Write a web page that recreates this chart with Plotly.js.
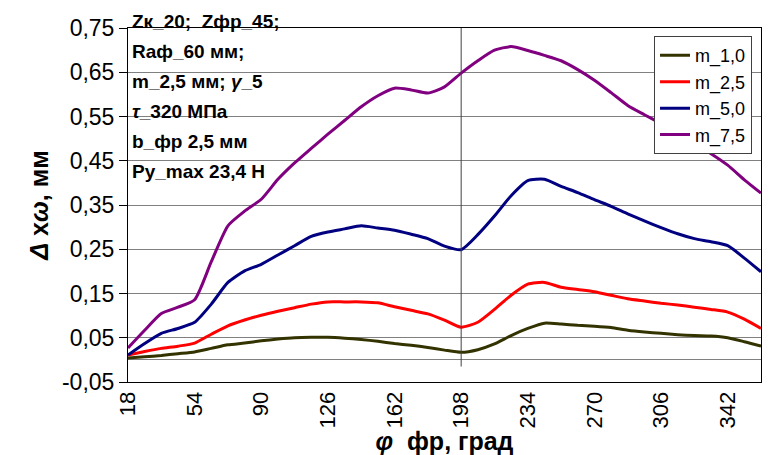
<!DOCTYPE html>
<html>
<head>
<meta charset="utf-8">
<script src="https://cdn.plot.ly/plotly-3.0.1.min.js"></script>
<style>html,body{margin:0;padding:0;background:#fff;}#chart{width:780px;height:455px;}</style>
</head>
<body>
<div id="chart"></div>
<script>
// Angle phi, degrees
var phi = [18,27,36,45,54,63,72,81,90,99,108,117,126,135,144,153,162,171,180,189,198,207,216,225,234,243,252,261,270,279,288,297,306,315,324,333,342,351,360];

var m10 = [0.004,0.007,0.010,0.014,0.018,0.026,0.034,0.038,0.043,0.047,0.050,0.051,0.051,0.049,0.046,0.042,0.037,0.033,0.028,0.022,0.017,0.023,0.036,0.055,0.071,0.083,0.081,0.078,0.076,0.073,0.067,0.063,0.060,0.057,0.055,0.054,0.050,0.041,0.031];
var m25 = [0.011,0.019,0.026,0.031,0.038,0.058,0.077,0.090,0.101,0.110,0.118,0.126,0.131,0.131,0.131,0.129,0.120,0.112,0.104,0.090,0.074,0.085,0.114,0.146,0.171,0.175,0.164,0.159,0.154,0.146,0.138,0.133,0.128,0.124,0.119,0.114,0.108,0.092,0.071];
var m50 = [0.011,0.037,0.060,0.071,0.085,0.126,0.175,0.201,0.216,0.237,0.258,0.279,0.289,0.296,0.303,0.298,0.293,0.284,0.274,0.257,0.249,0.283,0.325,0.371,0.405,0.408,0.392,0.378,0.362,0.347,0.330,0.314,0.299,0.285,0.274,0.267,0.258,0.230,0.199];
var m75 = [0.027,0.067,0.105,0.119,0.136,0.222,0.303,0.336,0.363,0.408,0.445,0.478,0.510,0.541,0.572,0.597,0.614,0.610,0.603,0.617,0.648,0.676,0.700,0.708,0.699,0.688,0.676,0.656,0.632,0.604,0.575,0.554,0.534,0.513,0.489,0.466,0.440,0.407,0.377];

var seriesNames = ["m_1,0","m_2,5","m_5,0","m_7,5"];
var seriesColors = ["#333300","#FF0000","#000080","#800080"];
var seriesData = [m10, m25, m50, m75];

var xTicks = [18,54,90,126,162,198,234,270,306,342];
var yTicks = [-0.05,0.05,0.15,0.25,0.35,0.45,0.55,0.65,0.75];
var yTickText = ["-0,05","0,05","0,15","0,25","0,35","0,45","0,55","0,65","0,75"];

var infoLines = ["Zк_20;  Zфр_45;","Raф_60 мм;","m_2,5 мм; <i>γ</i>_5","<i>τ</i>_320 МПа","b_фр 2,5 мм","Py_max 23,4 H"];

var FONT = "Liberation Sans, Arial, sans-serif";

var traces = seriesData.map(function(d,i){
  return {x: phi, y: d, type:'scatter', mode:'lines', name: seriesNames[i],
    line:{color: seriesColors[i], width:3, shape:'spline', smoothing:0.6}};
});

var annotations = infoLines.map(function(t,i){
  return {text: t, xref:'paper', yref:'paper', x:0.003, y: 1.017 - i*0.0845,
    xanchor:'left', yanchor:'middle', showarrow:false,
    font:{family:FONT, size:19, color:'#000', weight:'bold'}};
});

var layout = {
  width:780, height:455,
  margin:{l:128, r:19, t:28, b:73},
  paper_bgcolor:'#fff', plot_bgcolor:'#fff',
  font:{family:FONT, color:'#000'},
  showlegend:true,
  legend:{x:0.831, y:0.977, xanchor:'left', yanchor:'top',
    bgcolor:'#fff', bordercolor:'#404040', borderwidth:1,
    font:{family:FONT, size:18, color:'#000'}, tracegroupgap:0, itemwidth:30},
  xaxis:{range:[18,360], tickvals:xTicks, ticktext:xTicks.map(String), tickangle:-90,
    tickfont:{family:FONT, size:22, color:'#000'}, showgrid:false, zeroline:false,
    showline:true, linecolor:'#000', linewidth:1, mirror:true, ticks:'',
    title:{text:'<i>φ</i>  фр, град', font:{family:FONT, size:25, color:'#000', weight:'bold'}, standoff:6}},
  yaxis:{range:[-0.05,0.75], tickvals:yTicks, ticktext:yTickText,
    tickfont:{family:FONT, size:23, color:'#000'}, showgrid:true, gridcolor:'#808080', gridwidth:1,
    zeroline:true, zerolinecolor:'#808080', zerolinewidth:1,
    showline:true, linecolor:'#000', linewidth:1, mirror:true, ticks:'outside', ticklen:8, tickcolor:'#000',
    title:{text:'<i>Δ</i> x<i>ω</i>, мм', font:{family:FONT, size:25, color:'#000', weight:'bold'}, standoff:6}},
  shapes:[{type:'line', xref:'x', yref:'y', x0:198, x1:198, y0:-0.015, y1:0.75,
    line:{color:'#404040', width:1}}],
  annotations: annotations
};

Plotly.newPlot('chart', traces, layout, {staticPlot:true, displayModeBar:false});
</script>
</body>
</html>
